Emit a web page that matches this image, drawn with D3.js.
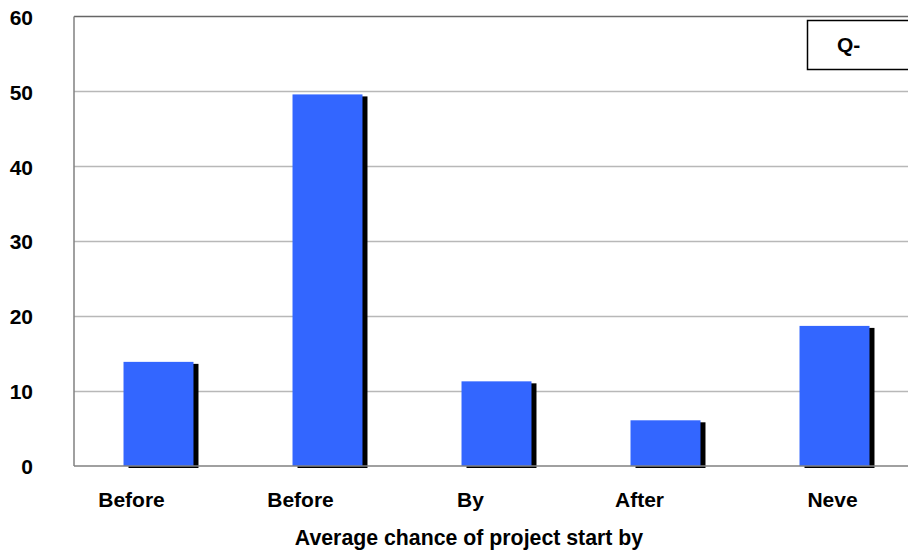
<!DOCTYPE html>
<html>
<head>
<meta charset="utf-8">
<script src="https://cdn.jsdelivr.net/npm/d3@7"></script>
<style>
  html, body { margin: 0; padding: 0; background: #fff; overflow: hidden; }
  svg { display: block; font-family: "Liberation Sans", Arial, sans-serif; font-weight: bold; }
</style>
</head>
<body>
<svg id="chart" width="908" height="552"></svg>
<script>
// Category labels along the x axis
const categories = ["Before", "Before", "By", "After", "Neve"];
// Average chance per category
const values = [13.9, 49.6, 11.3, 6.1, 18.7];
// Y axis tick values
const yTicks = [0, 10, 20, 30, 40, 50, 60];
const axisTitle = "Average chance of project start by";
const boxLabel = "Q-";

// Layout
const W = 908, H = 552;
const plot = { left: 74, right: 919, top: 16.5, bottom: 466 };
const labelNudge = [-27, -27, -26, -26, -2];
const shadow = { dx: 5, dy: 2 };

const svg = d3.select("#chart");

const x = d3.scaleBand()
  .domain(d3.range(categories.length))
  .range([plot.left, plot.right])
  .paddingInner(0.586)
  .paddingOuter(0.293);

const y = d3.scaleLinear()
  .domain([0, 60])
  .range([plot.bottom, plot.top]);

// Horizontal gridlines
svg.append("g")
  .selectAll("line")
  .data(yTicks.filter(t => t > 0 && t < 60))
  .join("line")
  .attr("x1", plot.left).attr("x2", W)
  .attr("y1", d => Math.round(y(d)) + 0.5)
  .attr("y2", d => Math.round(y(d)) + 0.5)
  .attr("stroke", "#b8b8b8")
  .attr("stroke-width", 1.4);

// Top frame line
svg.append("line")
  .attr("x1", plot.left).attr("x2", W)
  .attr("y1", y(60)).attr("y2", y(60))
  .attr("stroke", "#666").attr("stroke-width", 1.3);

// Bar shadows
svg.append("g")
  .selectAll("rect")
  .data(values)
  .join("rect")
  .attr("x", (d, i) => x(i) + shadow.dx)
  .attr("y", d => y(d) + shadow.dy)
  .attr("width", x.bandwidth())
  .attr("height", d => y(0) - y(d))
  .attr("fill", "#000");

// Bars
svg.append("g")
  .selectAll("rect")
  .data(values)
  .join("rect")
  .attr("x", (d, i) => x(i))
  .attr("y", d => y(d))
  .attr("width", x.bandwidth())
  .attr("height", d => y(0) - y(d))
  .attr("fill", "#3366ff");

// Axis lines
svg.append("line")
  .attr("x1", plot.left).attr("x2", plot.left)
  .attr("y1", y(60)).attr("y2", y(0))
  .attr("stroke", "#808080").attr("stroke-width", 1.5);
svg.append("line")
  .attr("x1", plot.left).attr("x2", W)
  .attr("y1", y(0)).attr("y2", y(0))
  .attr("stroke", "#808080").attr("stroke-width", 1.5);

// Y tick labels
const yAxis = d3.axisLeft(y).tickValues(yTicks).tickSize(0).tickPadding(0);
const gy = svg.append("g")
  .attr("transform", "translate(33,1)")
  .call(yAxis);
gy.select(".domain").remove();
gy.selectAll("text")
  .attr("font-family", "Liberation Sans, Arial, sans-serif")
  .attr("font-weight", "bold")
  .attr("font-size", 21)
  .attr("fill", "#000");

// Category labels
svg.append("g")
  .selectAll("text")
  .data(categories)
  .join("text")
  .attr("x", (d, i) => x(i) + x.bandwidth() / 2 + labelNudge[i])
  .attr("y", 507)
  .attr("text-anchor", "middle")
  .attr("font-size", 21)
  .attr("fill", "#000")
  .text(d => d);

// Axis title
svg.append("text")
  .attr("x", 469)
  .attr("y", 545)
  .attr("text-anchor", "middle")
  .attr("font-size", 21.3)
  .attr("fill", "#000")
  .text(axisTitle);

// Label box at top right
svg.append("rect")
  .attr("x", 807.5).attr("y", 20.5)
  .attr("width", 140).attr("height", 49)
  .attr("fill", "#fff")
  .attr("stroke", "#000").attr("stroke-width", 1.5);
svg.append("text")
  .attr("x", 837).attr("y", 52)
  .attr("font-size", 21)
  .attr("fill", "#000")
  .text(boxLabel);
</script>
</body>
</html>
